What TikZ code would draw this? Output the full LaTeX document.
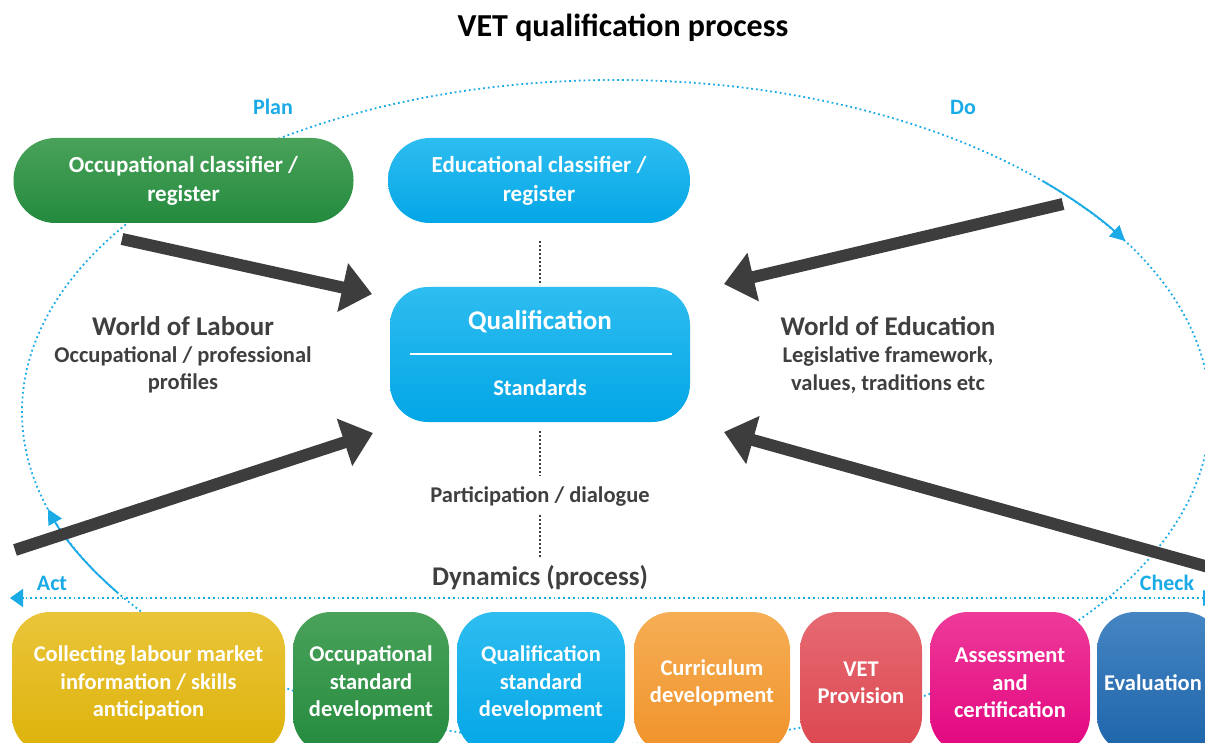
\documentclass[tikz,border=0pt]{standalone}
\usepackage{fontspec}
\setmainfont{Carlito}
\usetikzlibrary{arrows.meta,positioning}

\definecolor{cycleblue}{HTML}{1AAAE6}
\definecolor{arrowgray}{HTML}{3D3D3D}
\definecolor{textgray}{HTML}{3F3F3F}
\definecolor{occgreen}{HTML}{238A3E}
\definecolor{occgreenL}{HTML}{4AA25A}
\definecolor{educyan}{HTML}{03A6E6}
\definecolor{educyanL}{HTML}{2EBDF0}
\definecolor{lmyellow}{HTML}{DDB20A}
\definecolor{lmyellowL}{HTML}{EAC53A}
\definecolor{curorange}{HTML}{F0922A}
\definecolor{curorangeL}{HTML}{F6AE55}
\definecolor{vetred}{HTML}{DC4650}
\definecolor{vetredL}{HTML}{E66A72}
\definecolor{assmagenta}{HTML}{E2057F}
\definecolor{assmagentaL}{HTML}{EE3A99}
\definecolor{evalblue}{HTML}{1D64AA}
\definecolor{evalblueL}{HTML}{4585C2}

\begin{document}
\begin{tikzpicture}[x=1pt,y=-1pt,
    register/.style={
        rectangle,
        rounded corners=42pt,
        minimum width=340pt,
        minimum height=85pt,
        inner sep=0pt,
        align=center,
        text=white,
        font=\fontsize{23}{29}\selectfont\bfseries
    },
    stage/.style={
        rectangle,
        rounded corners=38pt,
        minimum height=142pt,
        inner sep=0pt,
        align=center,
        text=white,
        font=\fontsize{22.5}{27.5}\selectfont\bfseries
    },
    world/.style={
        text=textgray,
        align=center,
        font=\fontsize{22.5}{27.5}\selectfont\bfseries
    },
    worldhead/.style={
        text=textgray,
        font=\fontsize{27}{30}\selectfont\bfseries
    },
    pdca/.style={
        text=cycleblue,
        font=\fontsize{22}{24}\selectfont\bfseries
    },
    bigarrow/.style={
        draw=arrowgray,
        line width=12pt,
        -{Triangle[length=30pt,width=48pt]}
    },
    cycleline/.style={
        draw=cycleblue,
        line width=1.8pt,
        dash pattern=on 1.8pt off 3pt
    },
    cyclearrow/.style={
        draw=cycleblue,
        line width=1.8pt,
        -{Triangle[length=15pt,width=15pt]}
    },
    talkline/.style={
        draw=textgray,
        line width=1.6pt,
        dash pattern=on 1.6pt off 2.4pt
    }
]
\useasboundingbox (0,0) rectangle (1205,743);

% Title
\node[font=\fontsize{32}{36}\selectfont\bfseries] (title) at (623,28) {VET qualification process};

% PDCA cycle
\draw[cycleline] (616,412) ellipse [x radius=594, y radius=332];
\draw[cycleline, {Triangle[length=14pt,width=16pt]}-{Triangle[length=13pt,width=18pt]}]
    (1217,598) -- (10,598);
\coordinate (doS) at ({616+594*cos(-44)},{412+332*sin(-44)});
\coordinate (actS) at ({616+594*cos(147)},{412+332*sin(147)});
\draw[cyclearrow] (doS) arc[start angle=-44, end angle=-31, x radius=594, y radius=332];
\draw[cyclearrow] (actS) arc[start angle=147, end angle=163, x radius=594, y radius=332];
\node[pdca] (plan) at (273,107) {Plan};
\node[pdca] (do) at (963,107) {Do};
\node[pdca] (act) at (52,583) {Act};
\node[pdca] (check) at (1167,583) {Check};

% Registers
\node[register, top color=occgreenL, bottom color=occgreen] (occreg) at (183.5,180.5)
    {Occupational classifier /\\register};
\node[register, minimum width=302pt, top color=educyanL, bottom color=educyan] (edureg) at (539,180.5)
    {Educational classifier /\\register};

% Qualification
\node[rectangle, rounded corners=38pt, minimum width=300pt, minimum height=135pt,
    top color=educyanL, bottom color=educyan] (qual) at (540,354.5) {};
\node[text=white, font=\fontsize{27}{30}\selectfont\bfseries] (qualname) at (540,322) {Qualification};
\node[text=white, font=\fontsize{22.5}{26}\selectfont\bfseries] (standards) at (540,388) {Standards};
\draw[white, line width=1.6pt] (410,354) -- (672,354);

% Worlds
\node[worldhead] (labour) at (183,326) {World of Labour};
\node[world] (labourtxt) at (183,370) {Occupational / professional\\profiles};
\node[worldhead] (education) at (888,326) {World of Education};
\node[world] (educationtxt) at (888,370) {Legislative framework,\\values, traditions etc};

% Dialogue
\node[world] (dialogue) at (540,496) {Participation / dialogue};
\node[worldhead] (dynamics) at (540,578) {Dynamics (process)};
\coordinate (t1) at (540,241);
\coordinate (t2) at (540,285);
\coordinate (t3) at (540,431);
\coordinate (t4) at (540,476);
\coordinate (t5) at (540,515);
\coordinate (t6) at (540,558);
\draw[talkline] (t1) -- (t2);
\draw[talkline] (t3) -- (t4);
\draw[talkline] (t5) -- (t6);

% Big arrows
\coordinate (a1) at (122,239);
\coordinate (a2) at (1063,204);
\coordinate (a3) at (15,550);
\coordinate (a4) at (1212,568);
\coordinate (q1) at (372,294);
\coordinate (q2) at (724,284);
\coordinate (q3) at (373,433);
\coordinate (q4) at (724,432);
\draw[bigarrow] (a1) -- (q1);
\draw[bigarrow] (a2) -- (q2);
\draw[bigarrow] (a3) -- (q3);
\draw[bigarrow] (a4) -- (q4);

% Stages
\node[stage, minimum width=273pt, top color=lmyellowL, bottom color=lmyellow] (collect) at (148.5,683)
    {Collecting labour market\\information / skills\\anticipation};
\node[stage, minimum width=156pt, top color=occgreenL, bottom color=occgreen] (occstd) at (371,683)
    {Occupational\\standard\\development};
\node[stage, minimum width=168pt, top color=educyanL, bottom color=educyan] (qualstd) at (541,683)
    {Qualification\\standard\\development};
\node[stage, minimum width=156pt, top color=curorangeL, bottom color=curorange] (curric) at (712,683)
    {Curriculum\\development};
\node[stage, minimum width=122pt, top color=vetredL, bottom color=vetred] (vetprov) at (861,683)
    {VET\\Provision};
\node[stage, minimum width=160pt, top color=assmagentaL, bottom color=assmagenta] (assess) at (1010,683)
    {Assessment\\and\\certification};
\node[stage, minimum width=125pt, top color=evalblueL, bottom color=evalblue] (evalu) at (1159.5,683) {};
\node[text=white, font=\fontsize{22.5}{27.5}\selectfont\bfseries] (evaltxt) at (1153,683) {Evaluation};

\end{tikzpicture}
\end{document}
